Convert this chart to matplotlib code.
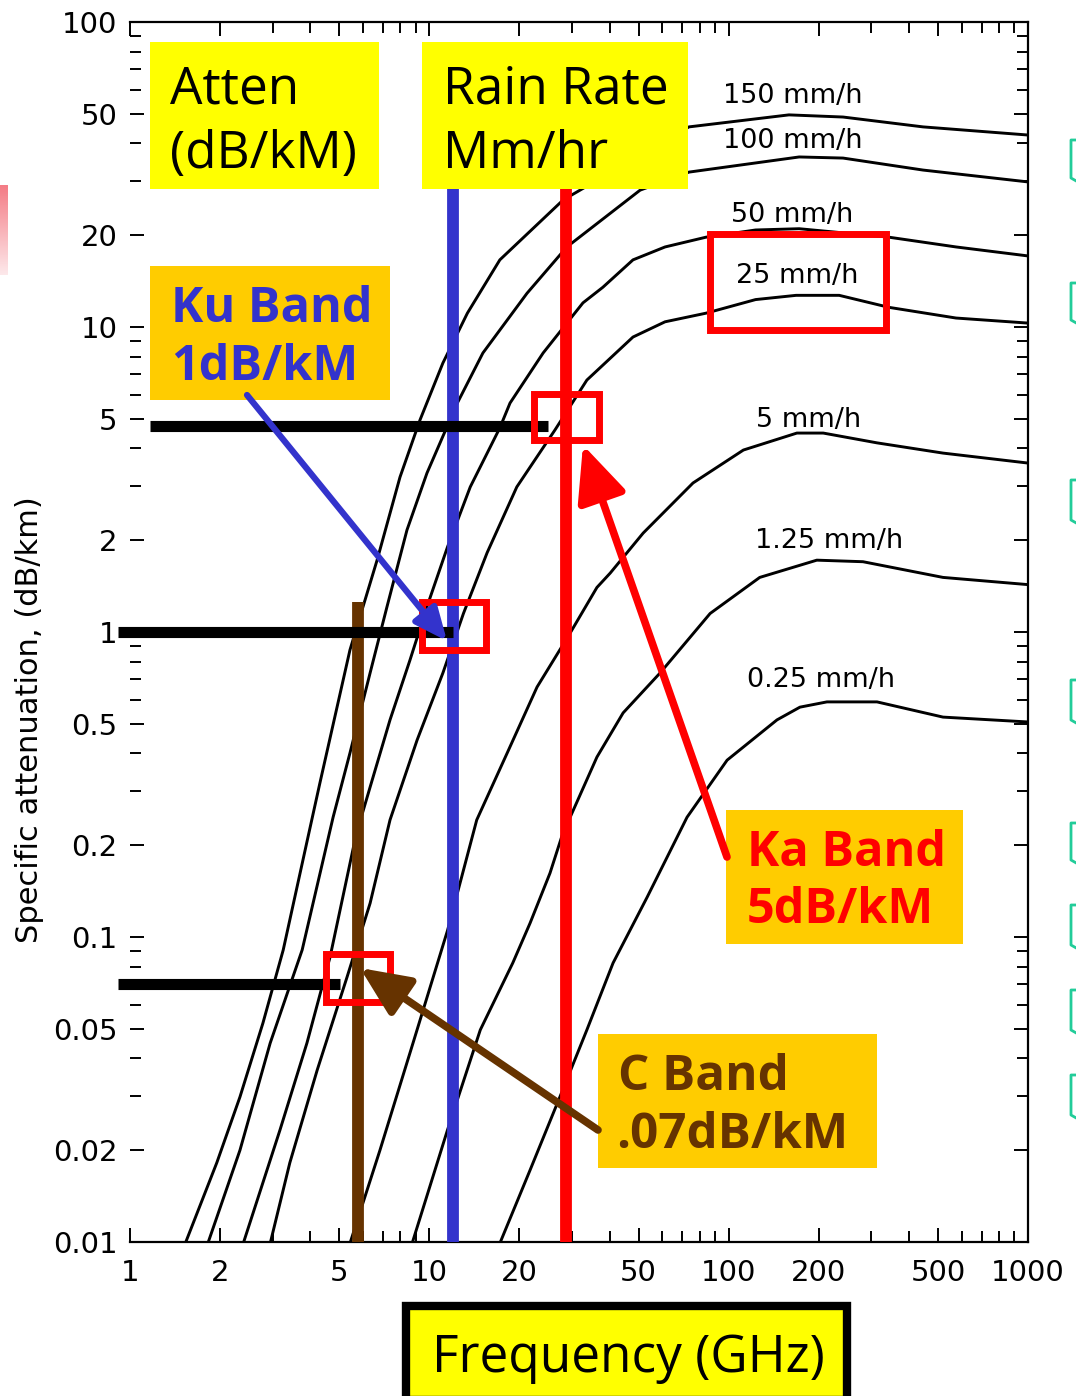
import numpy as np
import matplotlib
matplotlib.use('Agg')
import matplotlib.pyplot as plt
from matplotlib.patches import Rectangle
from matplotlib.ticker import FixedLocator, LogLocator, NullFormatter

# rain attenuation curves (frequency GHz, attenuation dB/km)
f_150 = [1.53, 1.95, 2.33, 2.78, 3.25, 3.90, 4.31, 5.43, 6.69, 7.98, 9.31, 11.1, 13.4, 17.2, 28.0, 73.7, 159, 241, 446, 1000]
a_150 = [0.0099, 0.0182, 0.0299, 0.0522, 0.0907, 0.205, 0.320, 0.873, 1.72, 3.22, 4.96, 7.62, 11.1, 16.6, 26.1, 45.3, 49.6, 48.8, 45.3, 42.6]

f_100 = [1.82, 2.33, 2.94, 3.76, 4.77, 5.43, 6.34, 7.22, 8.42, 9.82, 12.4, 15.1, 21.2, 28.8, 50.6, 73.7, 172, 241, 446, 1000]
a_100 = [0.0099, 0.0200, 0.0449, 0.0907, 0.247, 0.401, 0.734, 1.21, 2.16, 3.32, 5.63, 8.22, 12.9, 18.3, 28.1, 32.2, 36.1, 35.8, 32.7, 29.9]

f_50 = [2.39, 3.17, 3.90, 4.66, 5.69, 6.34, 7.39, 8.62, 9.82, 11.5, 13.7, 17.2, 18.6, 24.0, 32.6, 38.0, 47.9, 61.3, 84.0, 123, 172, 343, 575, 1000]
a_50 = [0.0099, 0.0233, 0.0449, 0.086, 0.216, 0.310, 0.515, 0.81, 1.21, 1.90, 2.99, 4.67, 5.63, 8.22, 12.0, 13.5, 16.6, 18.3, 19.7, 20.8, 21.0, 19.7, 18.3, 17.1]

f_25 = [2.94, 3.42, 4.22, 5.31, 6.34, 7.39, 9.10, 11.1, 13.0, 15.6, 19.6, 26.3, 33.6, 47.9, 61.3, 84.0, 123, 168, 234, 343, 575, 1000]
a_25 = [0.0099, 0.0182, 0.0366, 0.0739, 0.129, 0.242, 0.442, 0.734, 1.15, 1.82, 2.99, 4.60, 6.70, 9.27, 10.4, 11.1, 12.3, 12.7, 12.7, 11.6, 10.7, 10.3]

f_5 = [5.43, 6.84, 8.82, 11.5, 14.4, 18.2, 22.9, 29.5, 36.3, 40.2, 51.8, 76.0, 112, 169, 207, 313, 520, 1000]
a_5 = [0.0099, 0.0200, 0.0449, 0.105, 0.242, 0.401, 0.660, 0.99, 1.40, 1.56, 2.11, 3.08, 3.95, 4.49, 4.49, 4.17, 3.86, 3.58]

f_125 = [8.76, 11.5, 14.8, 19.0, 21.7, 25.3, 27.8, 36.3, 44.4, 59.0, 86.7, 127, 197, 281, 520, 1000]
a_125 = [0.0099, 0.0233, 0.0496, 0.0822, 0.111, 0.162, 0.216, 0.389, 0.543, 0.734, 1.15, 1.51, 1.72, 1.70, 1.51, 1.43]

f_025 = [17.2, 21.7, 27.3, 33.6, 41.1, 53.4, 72.6, 98.8, 145, 173, 213, 313, 520, 1000]
a_025 = [0.0099, 0.0172, 0.0299, 0.0496, 0.0822, 0.135, 0.247, 0.380, 0.515, 0.567, 0.590, 0.590, 0.526, 0.507]

rain_labels = ['150 mm/h', '100 mm/h', '50 mm/h', '25 mm/h', '5 mm/h', '1.25 mm/h', '0.25 mm/h']

x_ticks = [1, 2, 5, 10, 20, 50, 100, 200, 500, 1000]
x_tick_labels = ['1', '2', '5', '10', '20', '50', '100', '200', '500', '1000']
y_ticks = [0.01, 0.02, 0.05, 0.1, 0.2, 0.5, 1, 2, 5, 10, 20, 50, 100]
y_tick_labels = ['0.01', '0.02', '0.05', '0.1', '0.2', '0.5', '1', '2', '5', '10', '20', '50', '100']

# band markers: C, Ku, Ka
band_freq = [5.78, 12.0, 28.6]
band_top = [1.25, 30, 30]
band_colors = ['#663300', '#3333CC', '#FF0000']
band_atten = [0.07, 1.0, 4.75]
band_hline_start = [0.912, 0.912, 1.17]
band_hline_end = [5.03, 12.0, 24.9]

W, H = 1076, 1396
fig = plt.figure(figsize=(W / 100, H / 100), dpi=100)
ax = fig.add_axes([130 / W, 154 / H, 898 / W, 1220 / H])
ax.set_xscale('log')
ax.set_yscale('log')

curves = [(f_150, a_150), (f_100, a_100), (f_50, a_50), (f_25, a_25),
          (f_5, a_5), (f_125, a_125), (f_025, a_025)]
for f, a in curves:
    ax.plot(f, a, color='black', lw=2.1, solid_joinstyle='round', zorder=2)

ax.set_xlim(1, 1000)
ax.set_ylim(0.01, 100)
ax.xaxis.set_major_locator(FixedLocator(x_ticks))
ax.set_xticklabels(x_tick_labels)
ax.yaxis.set_major_locator(FixedLocator(y_ticks))
ax.set_yticklabels(y_tick_labels)
ax.xaxis.set_minor_locator(LogLocator(base=10, subs=(3, 4, 6, 7, 8, 9)))
ax.yaxis.set_minor_locator(LogLocator(base=10, subs=(3, 4, 6, 7, 8, 9)))
ax.xaxis.set_minor_formatter(NullFormatter())
ax.yaxis.set_minor_formatter(NullFormatter())
ax.tick_params(which='both', direction='in', top=True, right=True, width=1.4, labelsize=21)
ax.tick_params(which='major', length=10)
ax.tick_params(which='minor', length=8)
ax.tick_params(axis='x', pad=12)
ax.tick_params(axis='y', pad=9)
ax.spines['left'].set_visible(False)
for s in ['top', 'right', 'bottom']:
    ax.spines[s].set_linewidth(1.6)

fig.text(30 / W, 1 - 720 / H, 'Specific attenuation, (dB/km)', rotation=90,
         ha='center', va='center', fontsize=22)

# band lines
for fv, top, col in zip(band_freq, band_top, band_colors):
    ax.plot([fv, fv], [0.01, top], color=col, lw=8.5, solid_capstyle='butt',
            clip_on=False, zorder=4)
for x0, x1, lvl in zip(band_hline_start, band_hline_end, band_atten):
    ax.plot([x0, x1], [lvl, lvl], color='black', lw=8, solid_capstyle='butt',
            clip_on=False, zorder=4)

# overlay in pixel coordinates
ov = fig.add_axes([0, 0, 1, 1], zorder=10)
ov.set_xlim(0, W)
ov.set_ylim(H, 0)
ov.axis('off')

yellow = '#FFFF00'
orange = '#FFCC00'


def box(x0, y0, x1, y1, fc, ec='none', lw=0):
    ov.add_patch(Rectangle((x0, y0), x1 - x0, y1 - y0, facecolor=fc, edgecolor=ec, lw=lw))


def redsq(x0, y0, x1, y1):
    d = 3.5
    ov.add_patch(Rectangle((x0 + d, y0 + d), x1 - x0 - 2 * d, y1 - y0 - 2 * d,
                           facecolor='none', edgecolor='#FF0000', lw=5))


# rain rate labels
lab_pos = [(723, 103), (723, 148), (731, 222), (736, 283), (756, 427), (755, 548), (747, 687)]
for t, (x, y) in zip(rain_labels, lab_pos):
    ov.text(x, y, t, fontsize=19.5, ha='left', va='baseline')

box(150, 42, 379, 189, yellow)
ov.text(170, 104, 'Atten', fontsize=37, family='Open Sans', va='baseline')
ov.text(170, 168, '(dB/kM)', fontsize=37, family='Open Sans', va='baseline')

box(422, 42, 688, 189, yellow)
ov.text(443, 104, 'Rain Rate', fontsize=37, family='Open Sans', va='baseline')
ov.text(443, 168, 'Mm/hr', fontsize=37, family='Open Sans', va='baseline')

box(150, 266, 390, 400, orange)
ov.text(171, 322, 'Ku Band', fontsize=35, family='Open Sans', weight='bold',
        color='#3333CC', va='baseline')
ov.text(171, 380, '1dB/kM', fontsize=35, family='Open Sans', weight='bold',
        color='#3333CC', va='baseline')

box(726, 810, 963, 944, orange)
ov.text(747, 866, 'Ka Band', fontsize=35, family='Open Sans', weight='bold',
        color='#FF0000', va='baseline')
ov.text(747, 923, '5dB/kM', fontsize=35, family='Open Sans', weight='bold',
        color='#FF0000', va='baseline')

box(598, 1034, 877, 1168, orange)
ov.text(618, 1090, 'C Band', fontsize=35.5, family='Open Sans', weight='bold',
        color='#663300', va='baseline')
ov.text(616, 1148, '.07dB/kM', fontsize=35.5, family='Open Sans', weight='bold',
        color='#663300', va='baseline')

box(406, 1306, 847, 1400, yellow, ec='black', lw=6)
ov.text(432, 1372, 'Frequency (GHz)', fontsize=37, family='Open Sans', va='baseline')

# red highlight squares
redsq(530, 390, 602, 443)
redsq(418, 598, 489, 653)
redsq(322, 950, 393, 1005)
redsq(706, 230, 889, 333)

# arrows
ov.annotate('', xy=(447, 641), xytext=(247, 395),
            arrowprops=dict(arrowstyle='-|>,head_length=0.9,head_width=0.4', color='#3333CC',
                            lw=4.5, mutation_scale=22, shrinkA=0, shrinkB=0))
ov.annotate('', xy=(583, 445), xytext=(727, 857),
            arrowprops=dict(arrowstyle='-|>,head_length=1.0,head_width=0.45', color='#FF0000',
                            lw=5.5, mutation_scale=34, shrinkA=0, shrinkB=0))
ov.annotate('', xy=(360, 968), xytext=(598, 1130),
            arrowprops=dict(arrowstyle='-|>,head_length=1.0,head_width=0.45', color='#663300',
                            lw=5.5, mutation_scale=30, shrinkA=0, shrinkB=0))

# slide remnants at edges
grad = np.linspace(0, 1, 50).reshape(-1, 1)
ov.imshow(grad, extent=[0, 8, 275, 185], cmap=matplotlib.colors.LinearSegmentedColormap.from_list(
    'pk', ['#f47c86', '#fde8ea']), aspect='auto', zorder=1)
for y0, y1 in [(140, 178), (283, 320), (480, 520), (680, 720), (823, 860), (905, 945), (990, 1030), (1075, 1115)]:
    ov.plot([1078, 1071, 1071, 1078], [y0, y0, y1, y1 + 4], color='#22cc99', lw=2)
ov.set_xlim(0, W)
ov.set_ylim(H, 0)

fig.savefig('out.png', dpi=100)
